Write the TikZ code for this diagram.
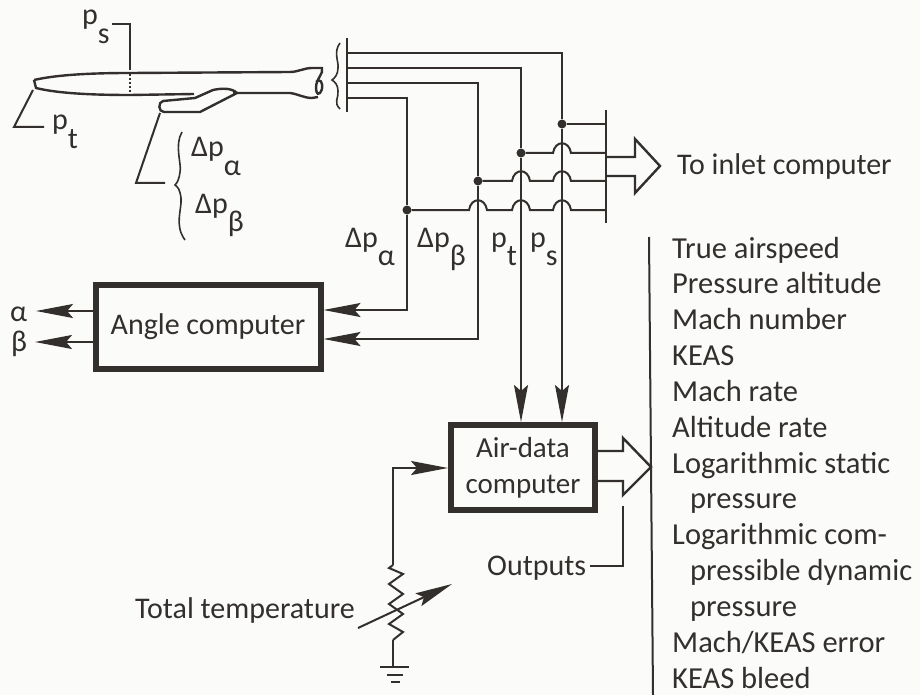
\documentclass[tikz,border=0pt]{standalone}
\usepackage{fontspec}
\setmainfont{Carlito}
\usetikzlibrary{arrows.meta,positioning,calc}
\definecolor{inkc}{RGB}{50,47,45}
\definecolor{paper}{RGB}{251,251,249}
\newcommand{\subs}[1]{\raisebox{-0.62em}{#1}}
\newcommand{\hop}[2]{-- (#1-9,#2) .. controls (#1-7,#2-13) and (#1+7,#2-13) .. (#1+9,#2)}

\begin{document}
\begin{tikzpicture}[
      x=1pt,y=-1pt,
      box/.style={draw=inkc,line width=6pt,text=inkc,align=center,
        font=\fontsize{30}{36}\selectfont},
      wire/.style={draw=inkc,line width=2pt},
      bar/.style={draw=inkc,line width=2.6pt},
      arr/.style={wire,-{Stealth[length=37pt,width=14pt,inset=6pt]}},
      hollow/.style={draw=inkc,line width=2.4pt,line join=miter},
      lab/.style={text=inkc,anchor=base west,inner sep=0pt,
        font=\fontsize{30}{30}\selectfont},
      item/.style={lab,font=\fontsize{30.5}{30}\selectfont},
      dot/.style={circle,fill=inkc,inner sep=0pt,minimum size=9pt}
    ]
      \useasboundingbox[fill=paper](0,0) rectangle (920,695);

      % probe
      \draw[wire,line width=2.4pt](34,80)..controls (60,74) and (100,73)..(130,73)
        --(290,72)..controls (298,72) and (304,68)..(312,68)--(322,68)
        ..controls (324,74) and (316,78)..(316,88)..controls (316,94) and (319,97)..(322,89)
        ..controls (323,82) and (320,78)..(316,82);
      \draw[wire,line width=2.4pt](34,80)--(36,88)..controls (60,94) and (100,95)..(130,95)
        --(194,94);
      \draw[wire,line width=2.4pt](233,93)--(290,93)..controls (298,94) and (304,98)..(312,98)
        --(318,97);
      \draw[wire,line width=2.4pt](195,98)--(163,101)..controls (158,102) and (158,112)..(164,112)
        --(200,112)--(237,93)..controls (232,88) and (222,88)..(213,90)--(195,98);
      \draw[wire,dotted](130,74)--(130,93);

      % leaders
      \node[lab](ps) at (82,25){p\subs{s}};
      \coordinate(psa) at (112,24);
      \coordinate(psb) at (130,70);
      \draw[wire](psa)-|(psb);
      \node[lab](pt) at (52,130){p\subs{t}};
      \coordinate(pta) at (33,90);
      \coordinate(ptb) at (14,127);
      \coordinate(ptc) at (44,127);
      \draw[wire](pta)--(ptb)--(ptc);
      \coordinate(spa) at (160,113);
      \coordinate(spb) at (136,183);
      \coordinate(spc) at (165,183);
      \draw[wire](spa)--(spb)--(spc);
      \draw[wire,line width=1.6pt](182,132)..controls (174,145) and (182,165)..(180,172)
        ..controls (179,180) and (177,183)..(175,185)
        ..controls (178,187) and (180,190)..(181,198)
        ..controls (182,210) and (174,225)..(185,240);
      \node[lab](dpaA) at (191,157){Δp\subs{α}};
      \node[lab](dpbA) at (195,213){Δp\subs{β}};

      % pressure bus
      \draw[bar](347,38)--(347,112);
      \draw[wire,line width=1.6pt](340,43)..controls (333,52) and (339,62)..(338,68)
        ..controls (338,74) and (335,78)..(332,80)
        ..controls (335,82) and (338,85)..(338,91)
        ..controls (339,98) and (333,102)..(340,109);
      \coordinate(bs) at (347,53);
      \coordinate(bt) at (347,68);
      \coordinate(bb) at (347,83);
      \coordinate(ba) at (347,98);
      \node[dot](js) at (562,124){};
      \node[dot](jt) at (521,153){};
      \node[dot](jb) at (478,181){};
      \node[dot](ja) at (407,210){};
      \coordinate(rs) at (606,124);
      \coordinate(rt) at (606,153);
      \coordinate(rb) at (606,181);
      \coordinate(ra) at (606,210);
      \draw[bar](606,110)--(606,223);
      \draw[wire](bs)-|(js);
      \draw[wire](bt)-|(jt);
      \draw[wire](bb)-|(jb);
      \draw[wire](ba)-|(ja);
      \draw[wire](js)--(rs);
      \draw[wire](jt)\hop{562}{153}--(rt);
      \draw[wire](jb)\hop{521}{181}\hop{562}{181}--(rb);
      \draw[wire](ja)\hop{478}{210}\hop{521}{210}\hop{562}{210}--(ra);

      % to inlet computer
      \coordinate(ha) at (606,157);
      \coordinate(hb) at (606,176);
      \draw[hollow](ha)--(635,157)--(635,139)--(660,166)--(635,193)--(635,176)--(hb);
      \node[lab](inlet) at (677,175){To inlet computer};

      % angle computer
      \node[box,minimum width=225pt,minimum height=83.5pt](angle) at (208,326.75){Angle computer};
      \coordinate(ina) at (angle.east|-0,310);
      \coordinate(inb) at (angle.east|-0,339);
      \draw[arr](ja)|-(ina);
      \draw[arr](jb)|-(inb);
      \node[lab](alpha) at (10,321){α};
      \node[lab](beta) at (11,351){β};
      \coordinate(outa) at (36,311);
      \coordinate(outb) at (35,342);
      \draw[arr](angle.west|-outa)--(outa);
      \draw[arr](angle.west|-outb)--(outb);

      % air-data computer
      \node[box,font=\fontsize{29}{36}\selectfont,minimum width=144pt,minimum height=85pt](air) at (523,467.5){Air-data\\computer};
      \draw[arr](jt)--(jt|-air.north);
      \draw[arr](js)--(js|-air.north);
      \coordinate(rtop) at (393,565);
      \coordinate(rbot) at (393,640);
      \draw[arr](rtop)|-(air.west|-0,468);
      \draw[wire](rtop)--(389,568)--(403,574)--(389,584)--(403,594)--(389,604)--(403,614)
        --(389,624)--(403,632)--(rbot);
      \coordinate(gnd) at (393,667);
      \draw[wire](rbot)--(gnd);
      \draw[bar](380,667)--(409,667);
      \draw[bar](387,675)--(403,675);
      \draw[bar](391,682)--(400,682);
      \coordinate(va) at (358,628);
      \coordinate(vb) at (452,584);
      \draw[arr](va)--(vb);
      \node[lab](ttemp) at (135,618){Total temperature};

      % outputs
      \coordinate(oa) at (598,451);
      \coordinate(ob) at (598,481);
      \draw[hollow](oa)--(623,451)--(623,438)--(651,467)--(623,495)--(623,481)--(ob);
      \node[lab](outs) at (487,575){Outputs};
      \coordinate(ola) at (590,566);
      \coordinate(olb) at (623,506);
      \draw[wire](ola)-|(olb);

      % bus labels
      \node[lab](dpa) at (345,247){Δp\subs{α}};
      \node[lab](dpb) at (417,247){Δp\subs{β}};
      \node[lab](lpt) at (491,247){p\subs{t}};
      \node[lab](lps) at (530,247){p\subs{s}};

      % output list
      \coordinate(la) at (649,237);
      \coordinate(lb) at (653,695);
      \draw[wire](la)--(lb);
      \node[item](l1) at (672,258){True airspeed};
      \node[item](l2) at (672,293){Pressure altitude};
      \node[item](l3) at (672,329){Mach number};
      \node[item](l4) at (672,365){KEAS};
      \node[item](l5) at (672,401){Mach rate};
      \node[item](l6) at (672,437){Altitude rate};
      \node[item](l7) at (672,473){Logarithmic static};
      \node[item](l8) at (690,508){pressure};
      \node[item](l9) at (672,544){Logarithmic com-};
      \node[item](l10) at (690,580){pressible dynamic};
      \node[item](l11) at (690,616){pressure};
      \node[item](l12) at (672,652){Mach/KEAS error};
      \node[item](l13) at (672,688){KEAS bleed};
    \end{tikzpicture}
\end{document}
